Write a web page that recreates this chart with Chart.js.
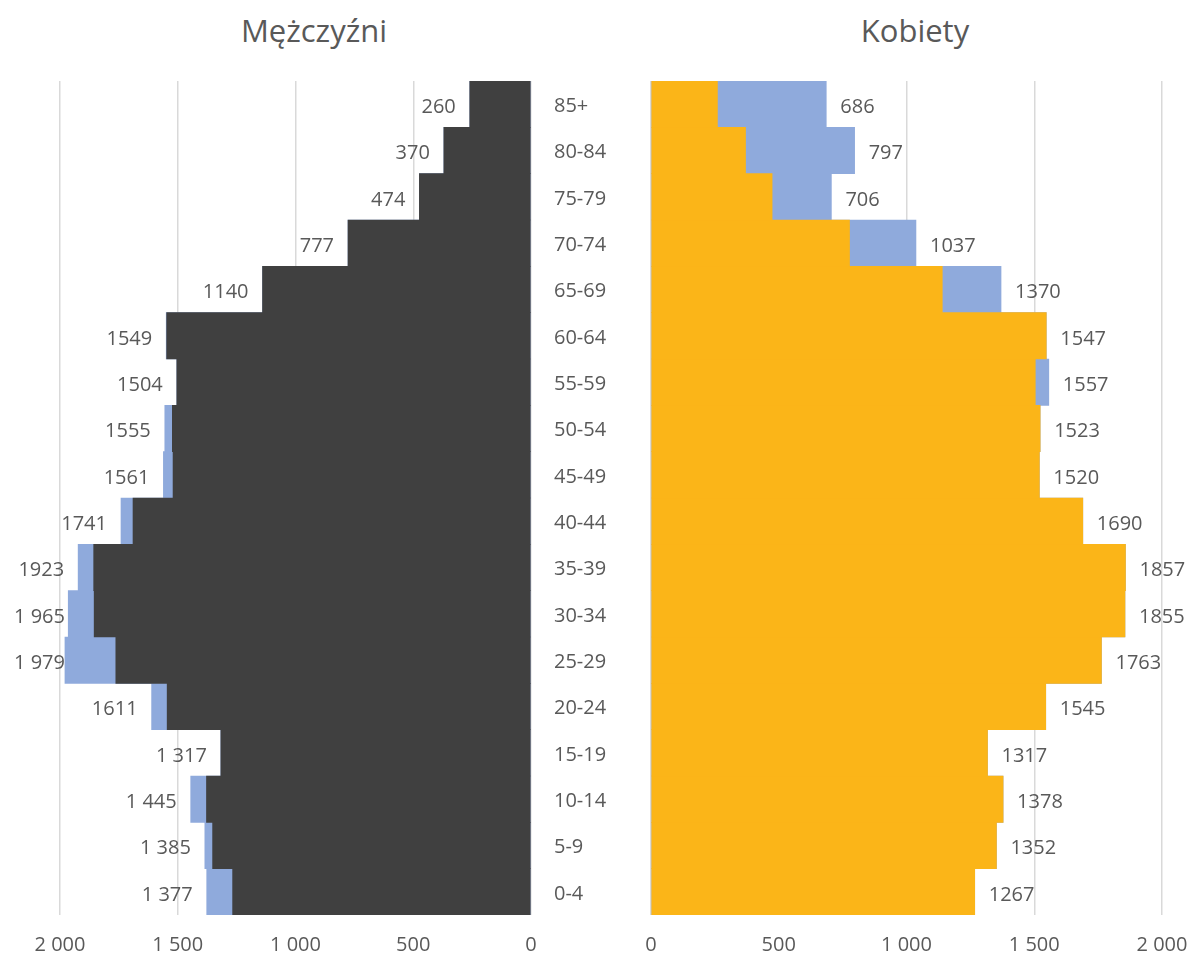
<!DOCTYPE html>
<html lang="pl">
<head>
<meta charset="utf-8">
<title>Mężczyźni / Kobiety</title>
<script src="https://cdn.jsdelivr.net/npm/chart.js@4.4.1/dist/chart.umd.min.js"></script>
<style>
  body {
    margin: 0;
    width: 1192px;
    height: 956px;
    position: relative;
    overflow: hidden;
    background: #fff;
    font-family: "Open Sans", sans-serif;
  }
  .title {
    position: absolute;
    top: 15px;
    font-size: 31px;
    line-height: 30px;
    color: #595959;
    transform: translateX(-50%);
    white-space: nowrap;
  }
  .box {
    position: absolute;
    top: 0;
  }
</style>
</head>
<body>
<div class="title" style="left: 314px">Mężczyźni</div>
<div class="title" style="left: 915px">Kobiety</div>
<div class="box" style="left: 0"><canvas id="menChart" width="640" height="956"></canvas></div>
<div class="box" style="left: 640px"><canvas id="womenChart" width="552" height="956"></canvas></div>

<script>
"use strict";

//////////////////////////////
// Data
const ageGroups = ["0-4", "5-9", "10-14", "15-19", "20-24", "25-29", "30-34", "35-39", "40-44",
  "45-49", "50-54", "55-59", "60-64", "65-69", "70-74", "75-79", "80-84", "85+"];

const men = [1377, 1385, 1445, 1317, 1611, 1979, 1965, 1923, 1741,
  1561, 1555, 1504, 1549, 1140, 777, 474, 370, 260];

const women = [1267, 1352, 1378, 1317, 1545, 1763, 1855, 1857, 1690,
  1520, 1523, 1557, 1547, 1370, 1037, 706, 797, 686];

// part shared by both sexes (smaller of the two values)
const common = [1267, 1352, 1378, 1317, 1545, 1763, 1855, 1857, 1690,
  1520, 1523, 1504, 1547, 1140, 777, 474, 370, 260];

const menLabels = ["1 377", "1 385", "1 445", "1 317", "1611", "1 979", "1 965", "1923", "1741",
  "1561", "1555", "1504", "1549", "1140", "777", "474", "370", "260"];

const womenLabels = ["1267", "1352", "1378", "1317", "1545", "1763", "1855", "1857", "1690",
  "1520", "1523", "1557", "1547", "1370", "1037", "706", "797", "686"];

const tickValues = [0, 500, 1000, 1500, 2000];
const tickLabels = ["0", "500", "1 000", "1 500", "2 000"];

//////////////////////////////
// Styles
const textColor = "#595959";
const gridColor = "#d9d9d9";
const blue = "#8faadc";
const dark = "#404040";
const orange = "#fbb518";
const font = { family: "'Open Sans', sans-serif", size: 20 };

// value labels next to the end of each bar
const labelPlugin = function (values, texts, side) {
  return {
    id: "valueLabels",
    afterDatasetsDraw(chart) {
      const ctx = chart.ctx;
      const xScale = chart.scales.x;
      const yScale = chart.scales.y;
      ctx.save();
      ctx.font = `${font.size}px ${font.family}`;
      ctx.fillStyle = textColor;
      ctx.textBaseline = "middle";
      ctx.textAlign = side === "left" ? "right" : "left";
      values.forEach((v, i) => {
        const x = xScale.getPixelForValue(v);
        const y = yScale.getPixelForValue(i) + 3;
        let tx = side === "left" ? x - 14 : x + 14;
        // keep labels inside the canvas like Excel does
        if (side === "left") {
          const w = ctx.measureText(texts[i]).width;
          tx = Math.max(tx, 14 + w);
        }
        ctx.fillText(texts[i], tx, y);
      });
      ctx.restore();
    },
  };
};

const xAxis = function (reverse) {
  return {
    reverse: reverse,
    min: 0,
    max: 2000,
    grid: {
      color: gridColor,
      lineWidth: 1.5,
      drawTicks: true,
      tickLength: 16,
      tickColor: "rgba(0,0,0,0)",
    },
    border: { display: false },
    ticks: {
      stepSize: 500,
      padding: 2,
      color: textColor,
      font: font,
      callback: (value) => tickLabels[tickValues.indexOf(value)],
    },
    afterFit: (axis) => {
      axis.height = 41;
    },
  };
};

const barSet = function (data, color) {
  return {
    data: data,
    backgroundColor: color,
    borderWidth: 0,
    grouped: false,
    barPercentage: 1,
    categoryPercentage: 1,
  };
};

//////////////////////////////
// Men
new Chart(document.getElementById("menChart"), {
  type: "bar",
  data: {
    labels: ageGroups,
    datasets: [barSet(common, dark), barSet(men, blue)],
  },
  options: {
    indexAxis: "y",
    responsive: false,
    animation: false,
    layout: { padding: { left: 60, top: 81, right: 0, bottom: 0 } },
    plugins: { legend: { display: false }, tooltip: { enabled: false } },
    scales: {
      x: xAxis(true),
      y: {
        position: "right",
        reverse: true,
        grid: { display: false, drawTicks: false },
        border: { display: false },
        ticks: { padding: 23, labelOffset: 2, color: textColor, font: font },
        afterFit: (axis) => {
          axis.width = 109;
        },
      },
    },
  },
  plugins: [labelPlugin(men, menLabels, "left")],
});

//////////////////////////////
// Women
new Chart(document.getElementById("womenChart"), {
  type: "bar",
  data: {
    labels: ageGroups,
    datasets: [barSet(common, orange), barSet(women, blue)],
  },
  options: {
    indexAxis: "y",
    responsive: false,
    animation: false,
    layout: { padding: { left: 11, top: 81, right: 30, bottom: 0 } },
    plugins: { legend: { display: false }, tooltip: { enabled: false } },
    scales: {
      x: xAxis(false),
      y: {
        reverse: true,
        display: false,
      },
    },
  },
  plugins: [labelPlugin(women, womenLabels, "right")],
});
</script>
</body>
</html>
